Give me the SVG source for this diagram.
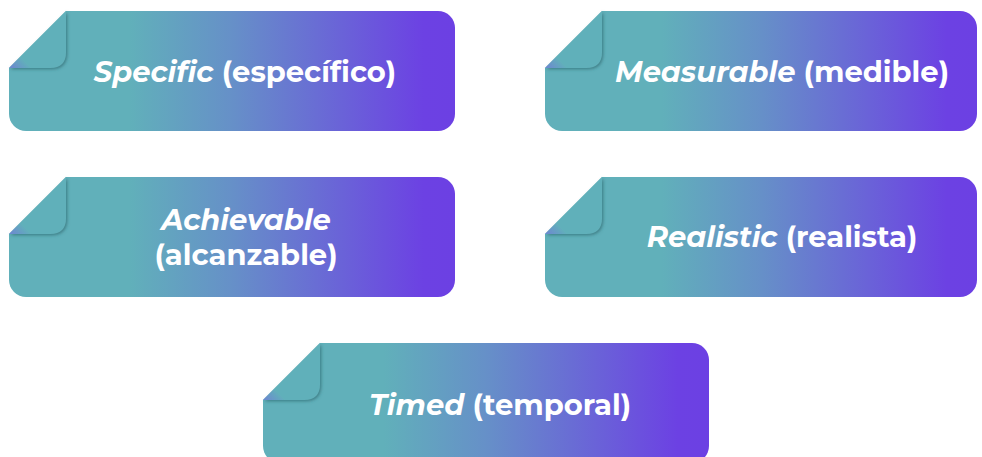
<svg xmlns="http://www.w3.org/2000/svg" width="982" height="457" viewBox="0 0 982 457">
  <defs>
    <!-- teal-to-violet fill shared by every card -->
    <linearGradient id="cardFill" x1="0" y1="0" x2="1" y2="0">
      <stop offset="0" stop-color="#61b0ba"/>
      <stop offset="0.27" stop-color="#61b0ba"/>
      <stop offset="0.5" stop-color="#6690c8"/>
      <stop offset="0.75" stop-color="#6a62d8"/>
      <stop offset="0.93" stop-color="#6c41e3"/>
      <stop offset="1" stop-color="#6c40e3"/>
    </linearGradient>
    <linearGradient id="flapFill" x1="0" y1="1" x2="0.2" y2="0.8">
      <stop offset="0" stop-color="#6e84d2"/>
      <stop offset="1" stop-color="#61b0ba"/>
    </linearGradient>
    <filter id="flapShadow" x="-20%" y="-20%" width="150%" height="150%">
      <feDropShadow dx="1.3" dy="1.3" stdDeviation="1.4" flood-color="#2e6a72" flood-opacity="0.7"/>
    </filter>
    <!-- a folded page corner, 57px, placed at each card's top-left -->
    <path id="flap" d="M57,0 L57,41 Q57,57 41,57 L0,57 Z"/>
  </defs>
  <style>
    .card { fill: url(#cardFill); }
    .fold { fill: url(#flapFill); filter: url(#flapShadow); }
    .label { font-family: Montserrat, "Open Sans", "Liberation Sans", sans-serif; font-weight: 700; font-size: 29px; fill: #ffffff; text-anchor: middle; }
    .em { font-style: italic; }
  </style>

  <g id="specific">
    <path class="card" d="M66,11 H438 A17,17 0 0 1 455,28 V114 A17,17 0 0 1 438,131 H26 A17,17 0 0 1 9,114 V68 Z"/>
    <use href="#flap" class="fold" x="9" y="11"/>
    <text class="label" x="245" y="82"><tspan class="em">Specific</tspan> (específico)</text>
  </g>

  <g id="measurable">
    <path class="card" d="M602,11 H960 A17,17 0 0 1 977,28 V114 A17,17 0 0 1 960,131 H562 A17,17 0 0 1 545,114 V68 Z"/>
    <use href="#flap" class="fold" x="545" y="11"/>
    <text class="label" x="782" y="82"><tspan class="em">Measurable</tspan> (medible)</text>
  </g>

  <g id="achievable">
    <path class="card" d="M66,177 H438 A17,17 0 0 1 455,194 V280 A17,17 0 0 1 438,297 H26 A17,17 0 0 1 9,280 V234 Z"/>
    <use href="#flap" class="fold" x="9" y="177"/>
    <text class="label" x="246" y="230"><tspan class="em">Achievable</tspan></text>
    <text class="label" x="246" y="265">(alcanzable)</text>
  </g>

  <g id="realistic">
    <path class="card" d="M602,177 H960 A17,17 0 0 1 977,194 V280 A17,17 0 0 1 960,297 H562 A17,17 0 0 1 545,280 V234 Z"/>
    <use href="#flap" class="fold" x="545" y="177"/>
    <text class="label" x="782" y="247"><tspan class="em">Realistic</tspan> (realista)</text>
  </g>

  <g id="timed">
    <path class="card" d="M320,343 H692 A17,17 0 0 1 709,360 V446 A17,17 0 0 1 692,463 H280 A17,17 0 0 1 263,446 V400 Z"/>
    <use href="#flap" class="fold" x="263" y="343"/>
    <text class="label" x="500" y="415"><tspan class="em">Timed</tspan> (temporal)</text>
  </g>

  <g id="connectors"/>
</svg>
